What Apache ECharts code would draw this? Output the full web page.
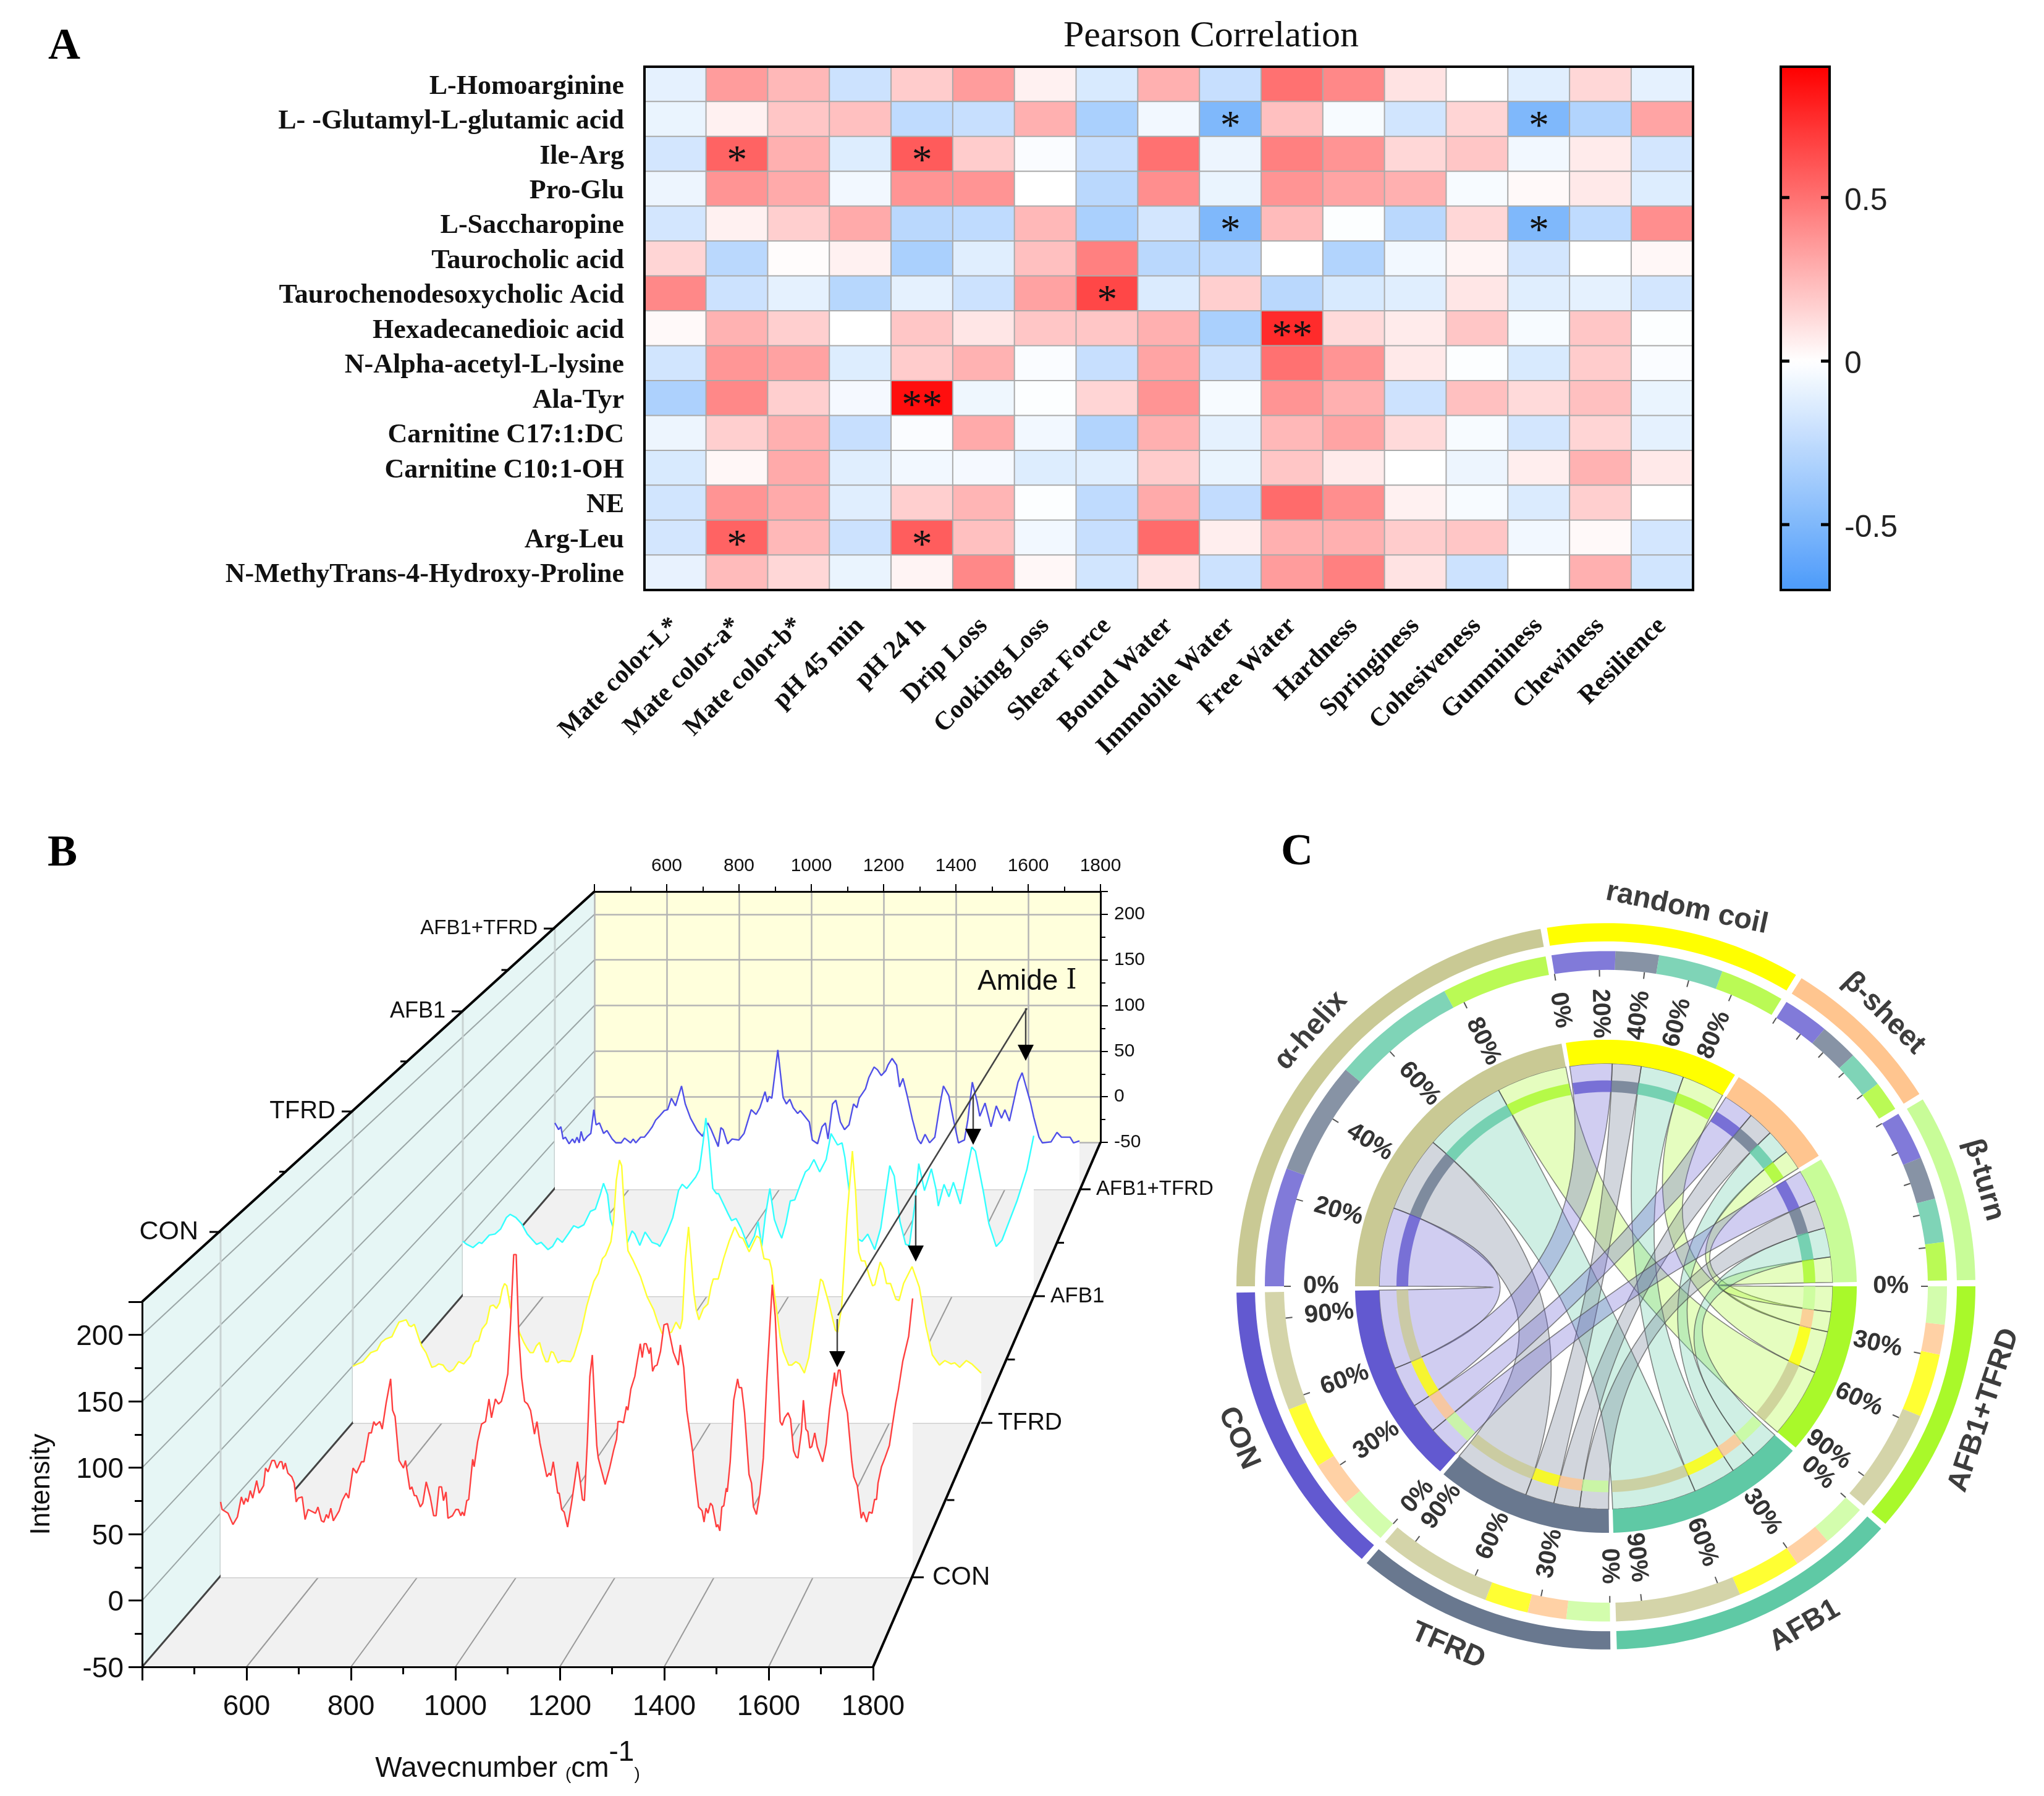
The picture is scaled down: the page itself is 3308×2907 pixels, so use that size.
<!DOCTYPE html>
<html><head><meta charset="utf-8">
<style>html,body{margin:0;padding:0;background:#fff}#c{width:3308px;height:2907px}</style>
<script src="https://cdn.jsdelivr.net/npm/echarts@6/dist/echarts.min.js"></script>
</head><body><div id="c"></div>
<script>
// ---------- Panel A data ----------
const metabolites = ['L-Homoarginine','L- -Glutamyl-L-glutamic acid','Ile-Arg','Pro-Glu','L-Saccharopine','Taurocholic acid','Taurochenodesoxycholic Acid','Hexadecanedioic acid','N-Alpha-acetyl-L-lysine','Ala-Tyr','Carnitine C17:1:DC','Carnitine C10:1-OH','NE','Arg-Leu','N-MethyTrans-4-Hydroxy-Proline'];
const traits = ['Mate color-L*','Mate color-a*','Mate color-b*','pH 45 min','pH 24 h','Drip Loss','Cooking Loss','Shear Force','Bound Water','Immobile Water','Free Water','Hardness','Springiness','Cohesiveness','Gumminess','Chewiness','Resilience'];
const correlation = [
 [-.1,.35,.25,-.2,.18,.35,.05,-.15,.28,-.22,.5,.42,.1,0,-.12,.14,-.1],
 [-.08,.05,.2,.22,-.25,-.22,.28,-.33,-.05,-.5,.22,-.03,-.18,.15,-.5,-.3,.32],
 [-.17,.55,.28,-.13,.58,.18,-.02,-.22,.5,-.07,.45,.38,.14,.2,-.05,.07,-.17],
 [-.07,.38,.3,-.05,.38,.38,0,-.27,.4,-.08,.38,.32,.28,-.03,.02,.08,-.13],
 [-.17,.05,.17,.3,-.27,-.25,.25,-.33,-.17,-.5,.24,-.01,-.27,.14,-.5,-.25,.4],
 [.15,-.27,.01,.05,-.33,-.12,.22,.45,-.27,-.25,0,-.3,-.05,.04,-.17,0,.03],
 [.42,-.2,-.1,-.28,-.1,-.2,.33,.65,-.14,.17,-.27,-.15,-.12,.09,-.12,-.1,-.17],
 [.02,.27,.17,0,.2,.09,.2,.2,.28,-.33,.75,.13,.07,.2,-.03,.2,-.01],
 [-.18,.37,.33,-.13,.18,.27,-.02,-.22,.32,-.2,.5,.38,.08,-.01,-.15,.18,-.02],
 [-.32,.42,.17,-.04,.85,-.06,-.01,.15,.38,-.03,.38,.28,-.2,.22,.13,.22,-.08],
 [-.07,.17,.28,-.22,-.02,.3,-.05,-.3,.28,-.1,.25,.32,.13,-.03,-.17,.15,-.1],
 [-.15,.03,.3,-.12,-.05,-.04,-.13,-.12,.18,-.08,.2,.07,0,-.07,.06,.27,.08],
 [-.18,.38,.3,-.12,.17,.26,-.01,-.25,.3,-.24,.52,.4,.05,-.03,-.14,.17,0],
 [-.17,.55,.25,-.2,.57,.22,-.05,-.22,.52,.06,.28,.28,.18,.2,-.05,.02,-.17],
 [-.09,.24,.14,-.08,.04,.42,.03,-.18,.1,-.2,.35,.45,.1,-.2,0,.28,-.18]];
const significance = [[1,9,'*'],[1,14,'*'],[2,1,'*'],[2,4,'*'],[4,9,'*'],[4,14,'*'],[6,7,'*'],[7,10,'**'],[9,4,'**'],[13,1,'*'],[13,4,'*']];
const colorScaleMin = -0.7, colorScaleMax = 0.9;
const colorBarTicks = [-0.5, 0, 0.5];

// ---------- Panel B data ----------
const conX=[400,403,415,425,434,442,447,451,455,460,465,473,478,487,491,496,504,509,514,520,524,527,531,536,544,549,553,557,565,571,577,592,597,604,609,614,618,623,628,640,646,654,659,668,675,685,690,700,705,710,714,722,727,735,744,748,753,761,770,774,783,787,792,796,804,809,816,824,831,836,842,847,851,856,860,869,876,881,886,889,893,898,902,910,913,920,928,936,943,948,956,962,968,974,981,987,993,998,1003,1009,1015,1021,1027,1035,1040,1046,1060,1065,1068,1073,1082,1085,1090,1095,1102,1110,1122,1128,1132,1136,1142,1147,1152,1156,1161,1164,1178,1180,1187,1195,1201,1204,1209,1215,1221,1224,1230,1238,1242,1249,1253,1257,1261,1267,1270,1274,1278,1283,1290,1297,1304,1316,1326,1330,1337,1343,1355,1360,1367,1374,1378,1382,1386,1391,1395,1403,1406,1410,1414,1418,1423,1425,1431,1438,1446,1449,1454,1460,1469,1474,1478,1484,1491,1498,1505,1516,1522,1527,1532,1536,1541,1548,1553,1559,1564,1568,1575,1579,1584,1588,1592,1596,1602,1607,1618,1625,1632,1642,1645,1650,1653,1658,1668,1677,1681,1688,1696,1700,1702,1707,1712,1718,1723,1727,1730,1737,1744,1753,1759,1766,1771,1780,1792,1800];
const conY=[10,4,1,-8,-2,14,8,13,10,19,13,27,17,23,37,34,43,43,37,42,42,36,41,33,30,25,10,13,14,-4,4,1,6,-5,-6,0,-3,5,-5,3,11,17,13,37,33,42,42,65,65,74,71,74,68,89,108,83,78,43,37,43,20,22,15,15,6,9,26,14,-1,-1,22,22,11,18,-3,-1,4,4,-1,2,-1,11,12,44,38,58,72,74,92,77,92,88,90,99,112,156,207,207,145,109,90,88,83,64,74,57,30,33,31,42,17,17,4,2,-10,9,42,25,12,11,58,110,127,94,55,45,24,24,37,51,60,74,74,73,86,83,100,110,120,136,125,136,136,128,133,114,118,119,130,151,152,129,119,135,117,83,50,30,6,3,-6,5,1,9,7,-10,-8,-13,6,7,21,18,42,91,108,101,101,81,32,25,6,0,17,45,107,183,158,115,74,71,77,81,76,51,46,45,66,91,68,66,53,54,65,54,42,56,84,113,102,115,115,97,81,42,30,23,-3,2,2,-6,2,1,12,12,25,38,45,55,71,89,99,122,142,172];
const tfrdX=[400,411,423,440,454,463,473,487,494,503,511,519,525,530,537,546,553,563,576,584,591,601,608,615,624,636,647,662,669,674,680,688,698,706,713,720,727,733,738,743,751,772,781,788,795,802,809,816,823,830,835,842,847,857,866,885,892,909,921,937,947,956,963,975,981,987,994,999,1004,1013,1025,1041,1056,1070,1079,1089,1110,1120,1129,1134,1141,1148,1153,1160,1165,1171,1181,1191,1198,1203,1214,1226,1238,1251,1262,1269,1283,1300,1307,1316,1328,1333,1340,1352,1359,1371,1378,1387,1395,1406,1416,1428,1442,1447,1461,1475,1480,1489,1501,1513,1520,1527,1533,1541,1551,1558,1563,1575,1582,1589,1598,1610,1617,1627,1646,1662,1677,1691,1707,1719,1733,1741,1752,1767,1779,1800];
const tfrdY=[0,2,4,12,14,21,24,26,32,39,40,41,36,35,37,26,18,12,-1,0,2,1,-3,-5,-3,4,2,9,19,22,22,33,38,53,54,51,56,68,73,71,52,29,21,16,12,12,18,21,11,4,4,13,12,3,5,4,9,31,53,75,82,95,98,110,128,164,182,177,144,102,93,79,61,50,39,29,30,39,33,41,95,123,99,64,50,41,51,55,70,77,77,95,110,123,114,113,101,115,113,95,94,86,62,26,13,1,1,4,2,-6,8,41,77,75,55,32,30,52,132,190,155,101,93,93,79,71,72,92,86,73,73,59,58,73,88,70,35,10,1,5,2,3,-1,5,2,-6];
const afb1X=[400,410,425,440,447,465,479,493,507,516,530,544,558,581,592,609,620,632,644,660,672,683,697,713,725,737,745,755,762,769,785,804,815,822,834,847,864,878,883,901,915,929,938,949,971,980,989,996,1003,1013,1022,1027,1050,1059,1070,1082,1101,1115,1124,1133,1142,1153,1164,1175,1182,1192,1203,1214,1226,1240,1249,1261,1275,1291,1303,1319,1330,1337,1346,1356,1370,1379,1393,1410,1425,1447,1458,1472,1486,1495,1509,1518,1532,1549,1560,1566,1580,1592,1603,1620,1648,1657,1676,1690,1708,1722,1759,1783,1800];
const afb1Y=[3,0,-3,2,1,9,10,15,26,29,26,20,10,0,2,-5,-2,6,2,11,18,16,19,32,34,48,59,48,24,16,2,2,13,10,-1,12,2,0,-2,12,26,52,58,54,65,72,98,122,100,54,49,49,30,23,25,16,-3,8,22,-2,28,54,24,12,6,20,42,43,56,70,73,82,70,82,107,96,98,84,56,20,5,3,10,-5,16,76,66,22,0,-1,40,78,52,73,54,37,58,46,60,39,94,90,52,20,-2,4,42,72,105];
const mixX=[400,410,416,422,428,438,447,453,459,465,470,477,487,496,504,510,519,530,539,553,563,577,586,602,609,616,629,639,651,660,669,681,692,701,711,722,738,748,762,780,794,808,817,836,843,849,861,873,891,905,924,937,947,961,967,972,979,995,1009,1018,1027,1036,1048,1055,1079,1087,1101,1113,1122,1129,1141,1150,1162,1173,1185,1197,1206,1212,1229,1238,1252,1261,1271,1283,1289,1300,1312,1320,1329,1340,1354,1368,1377,1388,1400,1414,1428,1437,1451,1465,1477,1493,1502,1514,1527,1534,1548,1564,1578,1592,1601,1613,1636,1647,1669,1678,1692,1701,1724,1740,1752,1775,1784,1800];
const mixY=[20,13,16,3,5,-2,3,-1,5,-1,11,1,6,9,34,18,20,9,12,3,-1,-1,4,-1,3,-1,5,5,11,16,23,28,33,34,46,38,59,40,25,12,6,20,13,-5,15,13,-2,3,2,9,34,29,36,53,42,48,46,97,47,40,45,36,30,33,21,2,-2,16,20,3,40,44,21,13,18,40,36,46,56,68,79,76,70,75,81,88,81,58,67,49,24,3,-2,8,-1,5,40,59,49,21,-1,2,23,63,42,27,41,16,38,25,34,22,63,73,42,26,5,-1,0,10,5,5,-1,1];
const spectraNames=['CON','TFRD','AFB1','AFB1+TFRD'];
const spectraColors=['#FF3F3F','#FFFF33','#33FFFF','#5050E8'];
const wavenumberTicks=[600,800,1000,1200,1400,1600,1800];
const intensityTicks=[-50,0,50,100,150,200];

// ---------- Panel C data ----------
const cohorts=['CON','TFRD','AFB1','AFB1+TFRD'];
const cohortColors=['#6259D0','#69788F','#5FC9A5','#A9F92A'];
const structures=['α-helix','random coil','β-sheet','β-turn'];
const structureColors=['#C9C994','#FFFF00','#FFC58F','#C8FC98'];
const flows=[ // rows: cohort, cols: structure
 [20.6,10.8,7.9,8.4],
 [19.7,7.4,6.6,7.4],
 [21.5,11.0,6.4,7.6],
 [18.1,11.0,5.2,6.6]];
const structureTickPct=[0,20,40,60,80];
const cohortTickPct=[0,30,60,90];

// ---------- Layout constants ----------
const HEAT={left:1043,top:108,width:1697,height:847};
const BAR={left:2882,top:108,width:79,height:847};
const SANS='"Liberation Sans", Arial, sans-serif', SERIF='"Liberation Serif", "Times New Roman", serif';
const FRONT={l:230,r:1413,b:2698,t:2107}, BACK={l:962,r:1781,b:1849,t:1443};
const PLANES=[{l:357,r:1477,b:2553,t:1994,fl:43,fr:42,gl:36,gr:32},{l:571,r:1588,b:2303,t:1799,fl:40,fr:39,gl:28,gr:27},{l:749,r:1673,b:2098,t:1637,fl:36,fr:35,gl:28,gr:27},{l:898,r:1747,b:1925,t:1503,fl:33,fr:33,gl:28,gr:27}];
const X0=400,X1=1800,Y0=-50,Y1=225;
const px=(p,w)=>p.l+(w-X0)/(X1-X0)*(p.r-p.l), py=(p,v)=>p.b-(v-Y0)/(Y1-Y0)*(p.b-p.t);
const C={cx:2599,cy:2082,R:598,squash:.983};
const NAME_PLACE={'AFB1':[-5,645],'TFRD':[3.5,645],'CON':[2,645],'AFB1+TFRD':[-2,645],'random coil':[1,636],'α-helix':[1.5,636],'β-sheet':[0,636],'β-turn':[0,636]};

// colour scale: white exactly at 0
function hex(r,g,b){return 'rgb('+Math.round(r)+','+Math.round(g)+','+Math.round(b)+')';}
const scaleStops=[];
for(let i=0;i<=16;i++){const v=colorScaleMin+i*0.1;
 if(v<-1e-9){const t=-v/0.7;scaleStops.push(hex(255+(76-255)*t,255+(155-255)*t,255+(250-255)*t));}
 else{const t=Math.max(v,0)/0.9;scaleStops.push(hex(255,255*(1-t),255*(1-t)));}}

const heatData=[];
correlation.forEach((row,r)=>row.forEach((v,c)=>heatData.push([c,r,v])));
const starOf={};significance.forEach(s=>starOf[s[0]+'_'+s[1]]=s[2]);

// ---------- chord layout ----------
const GAP=1.0;
const structTotals=structures.map((_,j)=>flows.reduce((s,r)=>s+r[j],0));
const cohortTotals=flows.map(r=>r.reduce((a,b)=>a+b,0));
const unit=(360-8*GAP)/(structTotals.reduce((a,b)=>a+b,0)+cohortTotals.reduce((a,b)=>a+b,0));
const sectors=[];let ang=270;
const structSub=[],cohortSub=[];
structures.forEach((n,j)=>{const a0=ang;const sub=[];let a=a0;
 cohorts.forEach((_,i)=>{const d=flows[i][j]*unit;sub.push([a,a+d]);a+=d;});
 structSub.push(sub);sectors.push({name:n,a0,a1:a,color:structureColors[j],ticks:structureTickPct,labelled:j<2,sub,subColors:cohortColors});ang=a+GAP;});
[3,2,1,0].forEach(i=>{const n=cohorts[i];const a0=ang;const sub=[];let a=a0;
 for(let j=3;j>=0;j--){const d=flows[i][j]*unit;sub[j]=[a,a+d];a+=d;}
 cohortSub[i]=sub;sectors.push({name:n,a0,a1:a,color:cohortColors[i],ticks:cohortTickPct,labelled:true,sub,subColors:structureColors});ang=a+GAP;});

const marks=[];
// ribbons
[3,2,1,0].forEach(i=>structures.forEach((_,j)=>{marks.push({k:'ribbon',a:structSub[j][i],b:cohortSub[i][j],color:cohortColors[i]});}));
sectors.forEach(s=>{
 marks.push({k:'arc',r0:568,r1:598,a0:s.a0,a1:s.a1,color:s.color,op:1});
 marks.push({k:'arc',r0:367,r1:406,a0:s.a0,a1:s.a1,color:s.color,op:1});
 s.sub.forEach((q,idx)=>{
  marks.push({k:'arc',r0:521,r1:552,a0:q[0],a1:q[1],color:s.subColors[idx],op:.8});
  marks.push({k:'arc',r0:320,r1:339,a0:q[0],a1:q[1],color:s.subColors[idx],op:.8});
 });
 s.ticks.forEach(p=>{const a=s.a0+(s.a1-s.a0)*p/100;
  marks.push({k:'tick',a});
  if(s.labelled)marks.push({k:'pct',a,text:p+'%'});});
 const place=NAME_PLACE[s.name];
 marks.push({k:'name',a:(s.a0+s.a1)/2+place[0],r:place[1],text:s.name});
});

function renderChord(params,api){
 const m=marks[params.dataIndex];
 const P=(r,a)=>{const q=api.coord([r,((a%360)+360)%360]);return [q[0],C.cy+(q[1]-C.cy)*C.squash];};
 const arcPts=(r,a,b)=>{const n=Math.max(2,Math.ceil(Math.abs(b-a)/1.5));const o=[];for(let i=0;i<=n;i++)o.push(P(r,a+(b-a)*i/n));return o;};
 if(m.k==='arc'){
  const pts=arcPts(m.r1,m.a0,m.a1).concat(arcPts(m.r0,m.a1,m.a0));
  return {type:'polygon',shape:{points:pts},style:{fill:m.color,opacity:m.op}};
 }
 if(m.k==='ribbon'){
  const R=367,ctr=P(0,0);
  const bez=(A,B)=>{const o=[];for(let i=1;i<40;i++){const t=i/40,u=1-t;o.push([u*u*A[0]+2*u*t*ctr[0]+t*t*B[0],u*u*A[1]+2*u*t*ctr[1]+t*t*B[1]]);}return o;};
  const arcA=arcPts(R,m.a[0],m.a[1]),arcB=arcPts(R,m.b[0],m.b[1]);
  const pts=arcA.concat(bez(arcA[arcA.length-1],arcB[0]),arcB,bez(arcB[arcB.length-1],arcA[0]));
  return {type:'polygon',shape:{points:pts},style:{fill:echarts.color.modifyAlpha(m.color,.3),stroke:'rgba(70,70,70,.65)',lineWidth:1.6}};
 }
 if(m.k==='tick'){
  const A=P(521,m.a),B=P(510,m.a);
  return {type:'line',shape:{x1:A[0],y1:A[1],x2:B[0],y2:B[1]},style:{stroke:'#555',lineWidth:2}};
 }
 const n=((m.a%360)+360)%360;
 if(m.k==='pct'){
  const pt=P(490,m.a),right=n>0&&n<180;
  const deg=right?n-90:n-270;
  return {type:'text',x:pt[0],y:pt[1],rotation:-deg*Math.PI/180,style:{text:m.text,fill:'#333',font:'bold 40px '+SANS,align:right?'right':'left',verticalAlign:'middle'}};
 }
 const pt=P(m.r,m.a),top=n<90||n>270;
 const deg=top?n:n-180;
 return {type:'text',x:pt[0],y:pt[1],rotation:-deg*Math.PI/180,style:{text:m.text,fill:'#3d3d3d',font:'bold 47px '+SANS,align:'center',verticalAlign:'middle'}};
}

// ---------- decoration for 3-D box of panel B ----------
const g=[];
const L=(x1,y1,x2,y2,stroke,w,z)=>g.push({type:'line',z:z===undefined?-5:z,silent:true,shape:{x1,y1,x2,y2},style:{stroke,lineWidth:w}});
const T=(text,x,y,size,align,extra)=>g.push({type:'text',z:30,silent:true,x,y,style:Object.assign({text,font:size+'px '+SANS,fill:'#111',textAlign:align,textVerticalAlign:'middle'},extra||{})});
g.push({type:'polygon',z:-10,silent:true,shape:{points:[[FRONT.l,FRONT.t],[BACK.l,BACK.t],[BACK.l,BACK.b],[FRONT.l,FRONT.b]]},style:{fill:'#E6F6F5'}});
g.push({type:'polygon',z:-10,silent:true,shape:{points:[[FRONT.l,FRONT.b],[BACK.l,BACK.b],[BACK.r,BACK.b],[FRONT.r,FRONT.b]]},style:{fill:'#F1F1F1'}});
intensityTicks.forEach(v=>L(FRONT.l,py(FRONT,v),BACK.l,py(BACK,v),'#9aa5a5',2));
wavenumberTicks.forEach(w=>L(px(FRONT,w),FRONT.b,px(BACK,w),BACK.b,'#9a9a9a',2));
PLANES.forEach(p=>{L(p.l,p.t,p.l,p.b,'#c8d2d2',3);L(p.l,p.b,p.r,p.b,'#cfcfcf',3);});
L(FRONT.l,FRONT.t,BACK.l,BACK.t,'#000',4,20);
L(FRONT.l,FRONT.b,BACK.l,BACK.b,'#444',3,-4);
L(FRONT.r,FRONT.b,BACK.r,BACK.b,'#000',4,20);
PLANES.forEach((p,i)=>{
 L(p.l-18,p.t,p.l,p.t,'#000',3,20);
 L(p.r,p.b,p.r+18,p.b,'#000',3,20);
 T(spectraNames[i],p.l-p.gl,p.t,p.fl,'right');
 T(spectraNames[i],p.r+p.gr,p.b,p.fr,'left');
});
[[PLANES[0],PLANES[1]],[PLANES[1],PLANES[2]],[PLANES[2],PLANES[3]]].forEach(([a,b])=>{
 const lx=(a.l+b.l)/2,ly=(a.t+b.t)/2;L(lx-12,ly,lx,ly,'#000',3,20);
 const rx=(a.r+b.r)/2,ry=(a.b+b.b)/2;L(rx,ry,rx+12,ry,'#000',3,20);
});
// Amide I annotation
L(1356,2129,1662,1632,'#444',2.5,25);
[[1660,1632,1717],[1575,1773,1853],[1482,1935,2042],[1355,2135,2213]].forEach(a=>{
 L(a[0],a[1],a[0],a[2]-20,'#444',2.5,25);
 g.push({type:'polygon',z:26,silent:true,shape:{points:[[a[0]-13,a[2]-26],[a[0]+13,a[2]-26],[a[0],a[2]]]},style:{fill:'#000'}});
});
g.push({type:'text',z:30,silent:true,x:1582,y:1589,style:{text:'{a|Amide }{b|Ⅰ}',textAlign:'left',textVerticalAlign:'middle',rich:{a:{fontFamily:SANS,fontSize:46,fill:'#111'},b:{fontFamily:'"DejaVu Serif"',fontSize:44,fill:'#111'}}}});
// colour-bar ticks, placed through the bar's value scale
colorBarTicks.forEach(v=>{const y=BAR.top+(colorScaleMax-v)/(colorScaleMax-colorScaleMin)*BAR.height;
 L(BAR.left,y,BAR.left+14,y,'#000',5,20);L(BAR.left+BAR.width-14,y,BAR.left+BAR.width,y,'#000',5,20);});
// panel letters
[['A',78,76],['B',77,1382],['C',2073,1380]].forEach(l=>g.push({type:'text',z:30,silent:true,x:l[1],y:l[2],style:{text:l[0],font:'bold 72px '+SERIF,fill:'#000',textAlign:'left',textVerticalAlign:'middle'}}));

// ---------- axes ----------
const noAxis=(gridIndex,extra)=>Object.assign({type:'value',gridIndex,show:false,min:X0,max:X1},extra||{});
const sp=spectraNames.map((n,i)=>({
 name:n,type:'line',xAxisIndex:4+i,yAxisIndex:4+i,
 data:[conX,tfrdX,afb1X,mixX][i].map((x,k)=>[x,[conY,tfrdY,afb1Y,mixY][i][k]]),
 showSymbol:false,symbol:'none',silent:true,z:6-i,
 lineStyle:{color:spectraColors[i],width:2.4},
 areaStyle:{color:'#fff',opacity:1,origin:'start'}
}));

const option={
 animation:false,backgroundColor:'#fff',
 title:{text:'Pearson Correlation',left:1955,top:24,textAlign:'center',textStyle:{fontFamily:SERIF,fontWeight:'normal',fontSize:60,color:'#111'}},
 graphic:{elements:g},
 polar:{center:[C.cx,C.cy],radius:[0,C.R]},
 angleAxis:{type:'value',min:0,max:360,startAngle:90,clockwise:true,show:false},
 radiusAxis:{type:'value',min:0,max:C.R,show:false},
 visualMap:{type:'continuous',seriesIndex:0,dimension:2,min:colorScaleMin,max:colorScaleMax,left:BAR.left,top:BAR.top,itemWidth:BAR.width,itemHeight:BAR.height,padding:0,calculable:false,hoverLink:false,text:null,showLabel:false,inRange:{color:scaleStops},z:1,textStyle:{fontSize:1,color:'transparent'}},
 grid:[
  Object.assign({show:true,borderColor:'#000',borderWidth:4,z:5,backgroundColor:'transparent'},HEAT),
  Object.assign({show:true,borderColor:'#000',borderWidth:4,z:9,backgroundColor:'transparent'},BAR),
  {left:FRONT.l,top:FRONT.t,width:FRONT.r-FRONT.l,height:FRONT.b-FRONT.t},
  {left:BACK.l,top:BACK.t,width:BACK.r-BACK.l,height:BACK.b-BACK.t,show:true,backgroundColor:'#FFFFDC',borderWidth:0},
 ].concat(PLANES.map(p=>({left:p.l,top:p.t,width:p.r-p.l,height:p.b-p.t}))),
 xAxis:[
  {type:'category',gridIndex:0,data:traits,axisLine:{show:false},axisTick:{show:false},splitLine:{show:false},
   axisLabel:{rotate:45,margin:52,interval:0,fontFamily:SERIF,fontWeight:'bold',fontSize:42,color:'#111'}},
  {type:'value',gridIndex:1,show:false,min:0,max:1},
  {type:'value',gridIndex:2,min:X0,max:X1,interval:200,splitLine:{show:false},position:'bottom',
   axisLine:{onZero:false,lineStyle:{color:'#000',width:3}},axisTick:{length:22,lineStyle:{color:'#000',width:3}},
   minorTick:{show:true,splitNumber:2,length:12,lineStyle:{color:'#000',width:3}},
   axisLabel:{margin:42,fontFamily:SANS,fontSize:46,color:'#111',formatter:v=>v===X0?'':v},
   name:'{a|Wavecnumber }{b|(}{a|cm}{c|-1}{b|)}',nameLocation:'middle',nameGap:116,
   nameTextStyle:{rich:{a:{fontFamily:SANS,fontSize:46,lineHeight:72,verticalAlign:'bottom',color:'#111'},b:{fontFamily:SANS,fontSize:28,lineHeight:72,verticalAlign:'bottom',color:'#111'},c:{fontFamily:SANS,fontSize:46,lineHeight:46,color:'#111',verticalAlign:'top'}}}},
  {type:'value',gridIndex:3,min:X0,max:X1,interval:200,position:'top',
   axisLine:{onZero:false,lineStyle:{color:'#000',width:3}},axisTick:{length:12,lineStyle:{color:'#000',width:2}},
   minorTick:{show:true,splitNumber:2,length:8,lineStyle:{color:'#000',width:2}},
   splitLine:{show:true,lineStyle:{color:'#b4b4b4',width:2.5}},
   axisLabel:{margin:26,fontFamily:SANS,fontSize:30,color:'#111',formatter:v=>v===X0?'':v}},
  noAxis(4),noAxis(5),noAxis(6),noAxis(7)
 ],
 yAxis:[
  {type:'category',gridIndex:0,data:metabolites,inverse:true,axisLine:{show:false},axisTick:{show:false},splitLine:{show:false},
   axisLabel:{margin:33,interval:0,verticalAlign:'top',padding:[-18,0,0,0],fontFamily:SERIF,fontWeight:'bold',fontSize:44,color:'#111'}},
  {type:'value',gridIndex:1,min:colorScaleMin,max:colorScaleMax,position:'right',z:10,axisLine:{show:false},splitLine:{show:false},
   axisTick:{show:false},
   axisLabel:{margin:24,verticalAlign:'top',padding:[-19,0,0,0],customValues:colorBarTicks,fontFamily:SANS,fontSize:50,color:'#222'}},
  {type:'value',gridIndex:2,min:Y0,max:Y1,interval:50,position:'left',splitLine:{show:false},
   axisLine:{onZero:false,lineStyle:{color:'#000',width:3}},axisTick:{length:22,lineStyle:{color:'#000',width:3}},
   minorTick:{show:true,splitNumber:2,length:12,lineStyle:{color:'#000',width:3}},
   axisLabel:{margin:30,verticalAlign:'top',padding:[-19,0,0,0],fontFamily:SANS,fontSize:46,color:'#111',formatter:v=>v===Y1?'':v},
   name:'Intensity',nameLocation:'middle',nameGap:140,nameTextStyle:{fontFamily:SANS,fontSize:44,color:'#111'}},
  {type:'value',gridIndex:3,min:Y0,max:Y1,interval:50,position:'right',
   axisLine:{onZero:false,lineStyle:{color:'#000',width:3}},axisTick:{length:12,lineStyle:{color:'#000',width:2}},
   minorTick:{show:true,splitNumber:2,length:8,lineStyle:{color:'#000',width:2}},
   splitLine:{show:true,lineStyle:{color:'#b4b4b4',width:2.5}},
   axisLabel:{margin:22,fontFamily:SANS,fontSize:30,color:'#111',formatter:v=>v===Y1?'':v}},
  noAxis(4,{min:Y0,max:Y1}),noAxis(5,{min:Y0,max:Y1}),noAxis(6,{min:Y0,max:Y1}),noAxis(7,{min:Y0,max:Y1})
 ],
 series:[
  {type:'heatmap',xAxisIndex:0,yAxisIndex:0,data:heatData,silent:true,z:2,
   itemStyle:{borderColor:'#aaa',borderWidth:2},
   label:{show:true,fontFamily:SERIF,fontSize:66,color:'#111',offset:[0,14],
    formatter:p=>starOf[p.value[1]+'_'+p.value[0]]||''}},
  ...sp,
  {type:'custom',coordinateSystem:'polar',silent:true,z:2,clip:false,renderItem:renderChord,
   data:marks.map(()=>[1,1])}
 ]
};
const chart=echarts.init(document.getElementById('c'));
chart.setOption(option);
</script></body></html>
